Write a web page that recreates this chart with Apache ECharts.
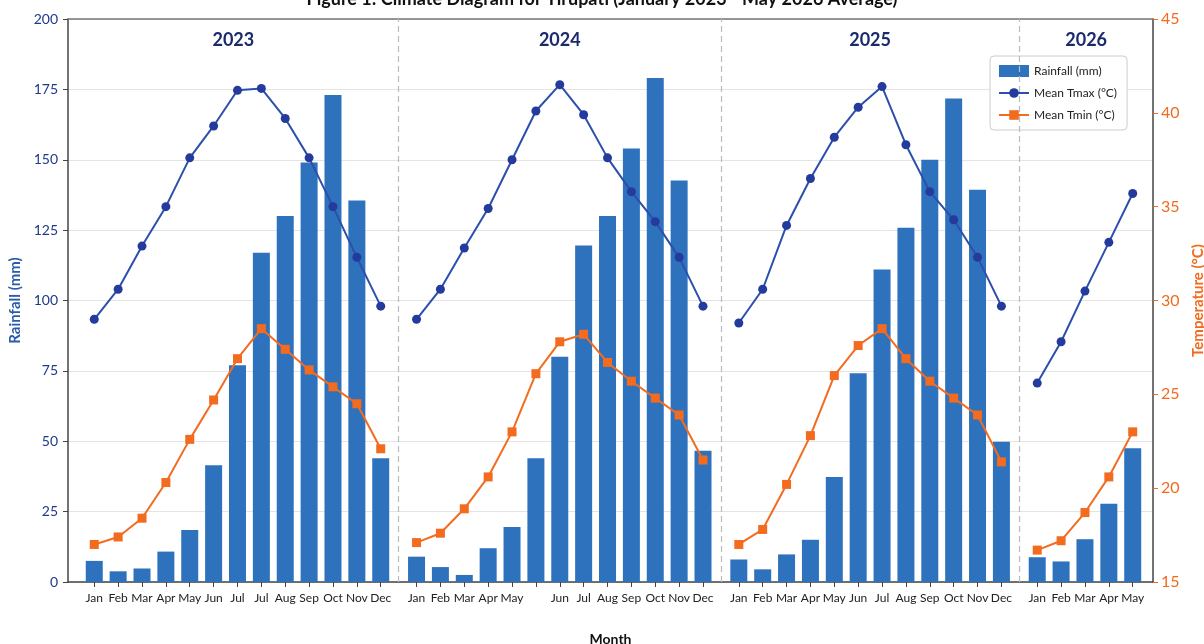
<!DOCTYPE html>
<html lang="en">
<head>
    <meta charset="UTF-8">
    <title>Climate Diagram for Tirupati</title>
    <script src="https://cdn.jsdelivr.net/npm/echarts@6/dist/echarts.min.js"></script>
    <style>
        html, body { margin: 0; padding: 0; background: #fff; }
        #app { width: 1204px; height: 644px; }
    </style>
</head>
<body>
    <div id="app"></div>
    <script>
        // values, one block per year
        var years = ['2023', '2024', '2025', '2026'];

        var months2023 = ['Jan', 'Feb', 'Mar', 'Apr', 'May', 'Jun', 'Jul', 'Jul', 'Aug', 'Sep', 'Oct', 'Nov', 'Dec'];
        var rain2023 = [7.5, 3.8, 4.8, 10.8, 18.5, 41.5, 77, 117, 130, 149, 173, 135.5, 44];
        var tmax2023 = [29.0, 30.6, 32.9, 35.0, 37.6, 39.3, 41.2, 41.3, 39.7, 37.6, 35.0, 32.3, 29.7];
        var tmin2023 = [17.0, 17.4, 18.4, 20.3, 22.6, 24.7, 26.9, 28.5, 27.4, 26.3, 25.4, 24.5, 22.1];

        var months2024 = ['Jan', 'Feb', 'Mar', 'Apr', 'May', '', 'Jun', 'Jul', 'Aug', 'Sep', 'Oct', 'Nov', 'Dec'];
        var rain2024 = [9, 5.3, 2.5, 12, 19.5, 44, 80, 119.5, 130, 154, 179, 142.6, 46.6];
        var tmax2024 = [29.0, 30.6, 32.8, 34.9, 37.5, 40.1, 41.5, 39.9, 37.6, 35.8, 34.2, 32.3, 29.7];
        var tmin2024 = [17.1, 17.6, 18.9, 20.6, 23.0, 26.1, 27.8, 28.2, 26.7, 25.7, 24.8, 23.9, 21.5];

        var months2025 = ['Jan', 'Feb', 'Mar', 'Apr', 'May', 'Jun', 'Jul', 'Aug', 'Sep', 'Oct', 'Nov', 'Dec'];
        var rain2025 = [8, 4.5, 9.8, 15, 37.3, 74.2, 111, 125.8, 150, 171.8, 139.3, 49.8];
        var tmax2025 = [28.8, 30.6, 34.0, 36.5, 38.7, 40.3, 41.4, 38.3, 35.8, 34.3, 32.3, 29.7];
        var tmin2025 = [17.0, 17.8, 20.2, 22.8, 26.0, 27.6, 28.5, 26.9, 25.7, 24.8, 23.9, 21.4];

        var months2026 = ['Jan', 'Feb', 'Mar', 'Apr', 'May'];
        var rain2026 = [8.8, 7.3, 15.2, 27.8, 47.5];
        var tmax2026 = [25.6, 27.8, 30.5, 33.1, 35.7];
        var tmin2026 = [16.7, 17.2, 18.7, 20.6, 23.0];

        var monthsByYear = [months2023, months2024, months2025, months2026];
        var rainByYear = [rain2023, rain2024, rain2025, rain2026];
        var tmaxByYear = [tmax2023, tmax2024, tmax2025, tmax2026];
        var tminByYear = [tmin2023, tmin2024, tmin2025, tmin2026];

        // layout: slot units along x, a wider gap between the year panels
        var yearGap = 1.5;
        var xMin = -1.1, xMax = 44.35;

        var pos = [], labels = [], rainData = [], tmaxData = [], tminData = [];
        var dividers = [];
        var x = 0;
        for (var y = 0; y < years.length; y++) {
            for (var i = 0; i < monthsByYear[y].length; i++) {
                pos.push(x);
                labels.push(monthsByYear[y][i]);
                rainData.push([x, rainByYear[y][i]]);
                tmaxData.push([x, tmaxByYear[y][i]]);
                tminData.push([x, tminByYear[y][i]]);
                x += 1;
            }
            var last = x - 1;
            if (y < years.length - 1) {
                var d = last + yearGap / 2;
                dividers.push(d);
                // break the lines between the panels
                tmaxData.push([d, '-']);
                tminData.push([d, '-']);
                x = last + yearGap;
            }
        }
        var edges = [xMin].concat(dividers).concat([xMax]);
        var yearCenters = [];
        for (var k = 0; k < years.length; k++) {
            yearCenters.push((edges[k] + edges[k + 1]) / 2);
        }

        function nearestIndex(list, v) {
            for (var n = 0; n < list.length; n++) {
                if (Math.abs(list[n] - v) < 1e-6) return n;
            }
            return -1;
        }

        var font = 'Lato, "Open Sans", sans-serif';
        var myChart = echarts.init(document.getElementById('app'));

        var option = {
            backgroundColor: '#ffffff',
            animation: false,
            textStyle: { fontFamily: font },
            title: {
                text: 'Figure 1: Climate Diagram for Tirupati (January 2023 - May 2026 Average)',
                left: 'center',
                top: -15,
                textStyle: { fontSize: 18, fontWeight: 'bold', color: '#111', fontFamily: font }
            },
            legend: {
                orient: 'vertical',
                left: 990,
                top: 56,
                itemWidth: 30,
                itemHeight: 12,
                itemGap: 10,
                padding: [9, 10, 9, 8],
                borderColor: '#cccccc',
                borderWidth: 1,
                borderRadius: 4,
                backgroundColor: '#ffffff',
                textStyle: { fontSize: 12, color: '#222', fontFamily: font },
                data: [
                    { name: 'Rainfall (mm)', icon: 'rect', itemStyle: { borderWidth: 0 } },
                    { name: 'Mean Tmax (°C)' },
                    { name: 'Mean Tmin (°C)' }
                ]
            },
            grid: { left: 68, right: 51, top: 19, bottom: 62, outerBoundsMode: 'none' },
            xAxis: [{
                type: 'value',
                min: xMin,
                max: xMax,
                name: 'Month',
                nameLocation: 'middle',
                nameGap: 50,
                nameTextStyle: { fontSize: 14, fontWeight: 'bold', color: '#111' },
                axisLine: { show: true, onZero: false, lineStyle: { color: '#444', width: 1.5 } },
                axisTick: { show: true, length: 5, customValues: pos, lineStyle: { color: '#444' } },
                axisLabel: {
                    customValues: pos,
                    fontSize: 12,
                    color: '#222',
                    margin: 10,
                    formatter: function (v) {
                        var n = nearestIndex(pos, v);
                        return n < 0 ? '' : labels[n];
                    }
                },
                splitLine: { show: false }
            }, {
                type: 'value',
                position: 'top',
                min: xMin,
                max: xMax,
                axisLine: { show: true, onZero: false, lineStyle: { color: '#777', width: 1.5 } },
                axisTick: { show: false },
                axisLabel: {
                    inside: true,
                    margin: 12,
                    customValues: yearCenters,
                    fontSize: 18,
                    fontWeight: 'bold',
                    color: '#1b2a6b',
                    formatter: function (v) {
                        var n = nearestIndex(yearCenters, v);
                        return n < 0 ? '' : years[n];
                    }
                },
                splitLine: { show: false }
            }],
            yAxis: [{
                type: 'value',
                min: 0,
                max: 200,
                interval: 25,
                name: 'Rainfall (mm)',
                nameLocation: 'middle',
                nameGap: 40,
                nameTextStyle: { fontSize: 15, fontWeight: 'bold', color: '#2a5caa' },
                axisLine: { show: true, onZero: false, lineStyle: { color: '#444', width: 1.5 } },
                axisTick: { show: true, length: 5, lineStyle: { color: '#444' } },
                axisLabel: { fontSize: 14, color: '#1f3a8a', margin: 10 },
                splitLine: { show: true, lineStyle: { color: '#e4e4e4' } }
            }, {
                type: 'value',
                min: 15,
                max: 45,
                interval: 5,
                name: 'Temperature (°C)',
                nameLocation: 'middle',
                nameGap: 30,
                nameRotate: 90,
                nameTextStyle: { fontSize: 15, fontWeight: 'bold', color: '#f26b1d' },
                axisLine: { show: true, onZero: false, lineStyle: { color: '#444', width: 1.5 } },
                axisTick: { show: true, length: 5, lineStyle: { color: '#f26b1d' } },
                axisLabel: { fontSize: 16, color: '#f26b1d', margin: 8 },
                splitLine: { show: false }
            }],
            series: [{
                name: 'Rainfall (mm)',
                type: 'bar',
                xAxisIndex: 0,
                yAxisIndex: 0,
                barWidth: 17,
                itemStyle: { color: '#2e72bd' },
                data: rainData,
                markLine: {
                    silent: true,
                    symbol: 'none',
                    label: { show: false },
                    lineStyle: { color: '#bbbbbb', type: [6, 4], width: 1.2 },
                    data: dividers.map(function (d) { return { xAxis: d }; })
                }
            }, {
                name: 'Mean Tmax (°C)',
                type: 'line',
                xAxisIndex: 0,
                yAxisIndex: 1,
                symbol: 'circle',
                symbolSize: 9,
                connectNulls: false,
                lineStyle: { color: '#2c4fae', width: 2 },
                itemStyle: { color: '#243a9c' },
                data: tmaxData
            }, {
                name: 'Mean Tmin (°C)',
                type: 'line',
                xAxisIndex: 0,
                yAxisIndex: 1,
                symbol: 'rect',
                symbolSize: 9,
                connectNulls: false,
                lineStyle: { color: '#f36b1f', width: 2 },
                itemStyle: { color: '#f36b1f' },
                data: tminData
            }]
        };
        myChart.setOption(option);
    </script>
</body>
</html>
